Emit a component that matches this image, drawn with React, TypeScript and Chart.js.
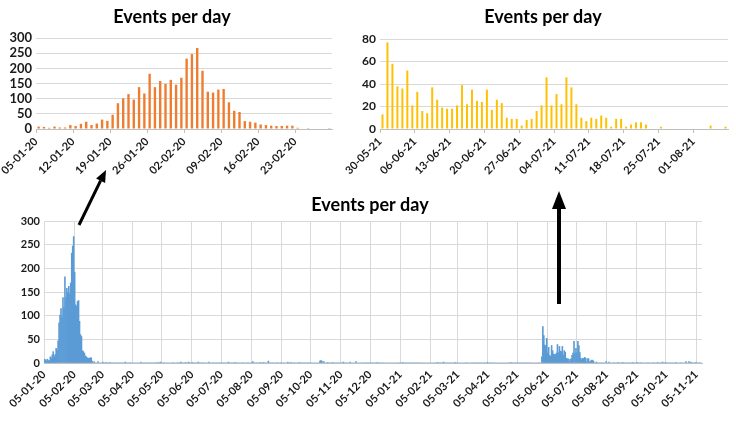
import React, { useEffect, useRef } from 'react';
import { Chart, registerables } from 'chart.js';
Chart.register(...registerables);

const TITLE = 'Events per day';

// Zoom 1: January–February 2020 (daily counts)
const JAN_START = '05-01-20';
const JAN_END = '01-03-20';
const JAN_VALUES = [8, 7, 4, 8, 5, 5, 13, 10, 17, 24, 13, 18, 31, 27, 47, 85, 101, 115, 97, 138, 117, 182, 138, 158, 149, 162, 146, 169, 232, 247, 267, 192, 123, 120, 130, 132, 88, 60, 56, 26, 24, 21, 15, 13, 11, 10, 10, 11, 11, 4, 0, 3, 0, 0, 0, 3];
const JAN_TICKS = ['05-01-20', '12-01-20', '19-01-20', '26-01-20', '02-02-20', '09-02-20', '16-02-20', '23-02-20'];

// Zoom 2: June–July 2021 (daily counts)
const JUN_START = '30-05-21';
const JUN_END = '08-08-21';
const JUN_VALUES = [13, 77, 58, 38, 36, 52, 21, 33, 16, 14, 37, 26, 19, 18, 18, 21, 39, 22, 35, 25, 24, 35, 17, 26, 23, 10, 9, 9, 3, 8, 9, 16, 21, 46, 21, 31, 22, 46, 37, 22, 10, 7, 10, 9, 12, 10, 2, 9, 9, 2, 4, 6, 6, 4, 0, 0, 2, 0, 0, 0, 0, 0, 0, 0, 0, 0, 3, 0, 0, 2];
const JUN_TICKS = ['30-05-21', '06-06-21', '13-06-21', '20-06-21', '27-06-21', '04-07-21', '11-07-21', '18-07-21', '25-07-21', '01-08-21'];

// Full period
const ALL_START = '05-01-20';
const ALL_END = '11-11-21';
const ALL_TICKS = ['05-01-20', '05-02-20', '05-03-20', '05-04-20', '05-05-20', '05-06-20', '05-07-20', '05-08-20', '05-09-20', '05-10-20', '05-11-20', '05-12-20', '05-01-21', '05-02-21', '05-03-21', '05-04-21', '05-05-21', '05-06-21', '05-07-21', '05-08-21', '05-09-21', '05-10-21', '05-11-21'];
// sporadic events outside the two zoomed periods (day offset from ALL_START, count)
const OTHER_DAYS = [60, 63, 67, 83, 88, 99, 116, 119, 132, 137, 140, 145, 148, 152, 158, 163, 169, 173, 189, 196, 204, 209, 214, 222, 225, 230, 239, 243, 250, 253, 262, 283, 284, 285, 287, 291, 296, 307, 314, 320, 342, 368, 404, 410, 422, 433, 455, 479, 508, 585, 589, 594, 604, 609, 613, 620, 625, 630, 635, 638, 649, 654, 659, 662, 664, 669];
const OTHER_VALUES = [2, 1, 1, 2, 1, 2, 1, 2, 1, 1, 2, 1, 2, 1, 2, 1, 2, 1, 2, 1, 1, 1, 3, 1, 1, 4, 1, 1, 2, 1, 1, 4, 5, 4, 3, 1, 1, 2, 2, 3, 1, 1, 1, 2, 1, 1, 1, 1, 1, 1, 1, 1, 1, 1, 1, 1, 1, 1, 2, 1, 1, 1, 3, 3, 2, 1];

function toUTC(s: string) {
  const [d, m, y] = s.split('-').map(Number);
  return Date.UTC(2000 + y, m - 1, d);
}
function dayOffset(from: string, to: string) {
  return Math.round((toUTC(to) - toUTC(from)) / 86400000);
}

const ALL_DAYS = dayOffset(ALL_START, ALL_END);
const allValues: number[] = new Array(ALL_DAYS).fill(0);
JAN_VALUES.forEach((v, i) => { allValues[dayOffset(ALL_START, JAN_START) + i] += v; });
JUN_VALUES.forEach((v, i) => { allValues[dayOffset(ALL_START, JUN_START) + i] += v; });
OTHER_DAYS.forEach((d, i) => { allValues[d] += OTHER_VALUES[i]; });

type Spec = {
  start: string;
  end: string;
  values: number[];
  ticks: string[];
  color: string;
  yMax: number;
  yStep: number;
  barPct: number;
  yWidth: number;
  xHeight: number;
  padLeft: number;
  rightGap: number;
  titleTop: number;
  titleBottom: number;
  yFont: number;
  xFont: number;
  xGrid: boolean;
};

const TICK_COLOR = '#1a1a1a';
const FONT = 'Lato, "Open Sans", sans-serif';

function Panel({ spec, left, top, width, height }: { spec: Spec; left: number; top: number; width: number; height: number }) {
  const ref = useRef<HTMLCanvasElement | null>(null);
  useEffect(() => {
    if (!ref.current) return;
    const xMax = dayOffset(spec.start, spec.end);
    const tickDays = spec.ticks.map((t) => dayOffset(spec.start, t));
    const chart = new Chart(ref.current, {
      type: 'bar',
      data: {
        datasets: [
          {
            data: spec.values.map((v, i) => ({ x: i + 0.5, y: v })),
            backgroundColor: spec.color,
            borderWidth: 0,
            barPercentage: spec.barPct,
            categoryPercentage: 1,
          } as any,
        ],
      },
      options: {
        animation: false,
        responsive: false,
        maintainAspectRatio: false,
        layout: { padding: { left: spec.padLeft, right: 0, top: 0, bottom: 0 } },
        plugins: {
          legend: { display: false },
          tooltip: { enabled: false },
          title: {
            display: true,
            text: TITLE,
            color: '#000',
            font: { family: FONT, size: 18, weight: 'bold' },
            padding: { top: spec.titleTop, bottom: spec.titleBottom },
          },
        },
        scales: {
          x: {
            type: 'linear',
            min: 0,
            max: xMax,
            offset: false,
            afterBuildTicks: (axis: any) => {
              axis.ticks = tickDays.map((v) => ({ value: v }));
            },
            afterFit: (axis: any) => {
              axis.height = spec.xHeight;
            },
            ticks: {
              autoSkip: false,
              minRotation: 45,
              maxRotation: 45,
              padding: spec.xGrid ? 5 : 2,
              color: TICK_COLOR,
              font: { family: FONT, size: spec.xFont, weight: 'bold' },
              callback: (_v: any, i: number) => spec.ticks[i] ?? '',
            },
            grid: {
              display: true,
              offset: false,
              drawOnChartArea: spec.xGrid,
              drawTicks: !spec.xGrid,
              tickLength: 4,
              color: spec.xGrid ? '#d9d9d9' : '#bfbfbf',
            },
            border: { display: true, color: '#bfbfbf' },
          } as any,
          y: {
            min: 0,
            max: spec.yMax,
            afterFit: (axis: any) => {
              axis.width = spec.yWidth;
            },
            ticks: {
              stepSize: spec.yStep,
              autoSkip: false,
              padding: 4,
              color: TICK_COLOR,
              font: { family: FONT, size: spec.yFont, weight: 'bold', lineHeight: 1 },
            },
            grid: { color: '#d9d9d9', drawTicks: false },
            border: { display: false },
          } as any,
          // empty right-hand gutter, so the title stays centred on the panel
          gutter: {
            type: 'linear',
            position: 'right',
            min: 0,
            max: 1,
            afterFit: (axis: any) => {
              axis.width = spec.rightGap;
            },
            ticks: { display: false },
            grid: { display: false, drawTicks: false },
            border: { display: false },
          } as any,
        },
      } as any,
    });
    return () => chart.destroy();
  }, [spec]);
  return (
    <canvas
      ref={ref}
      width={width}
      height={height}
      style={{ position: 'absolute', left, top, width, height }}
    />
  );
}

const janSpec: Spec = {
  start: JAN_START, end: JAN_END, values: JAN_VALUES, ticks: JAN_TICKS, color: '#ED7D31',
  yMax: 300, yStep: 50, barPct: 0.45, yWidth: 32, xHeight: 66, padLeft: 4, rightGap: 8,
  titleTop: 6, titleBottom: 10.4, yFont: 13, xFont: 11, xGrid: false,
};
const junSpec: Spec = {
  start: JUN_START, end: JUN_END, values: JUN_VALUES, ticks: JUN_TICKS, color: '#FFC000',
  yMax: 80, yStep: 20, barPct: 0.4, yWidth: 30, xHeight: 66, padLeft: 10, rightGap: 8,
  titleTop: 6, titleBottom: 11.4, yFont: 12, xFont: 11, xGrid: false,
};
const allSpec: Spec = {
  start: ALL_START, end: ALL_END, values: allValues, ticks: ALL_TICKS, color: '#5B9BD5',
  yMax: 300, yStep: 50, barPct: 1, yWidth: 40, xHeight: 62, padLeft: 4, rightGap: 34,
  titleTop: 4, titleBottom: 5.4, yFont: 11, xFont: 11, xGrid: true,
};

export default function App() {
  return (
    <div style={{ position: 'absolute', left: 0, top: 0, width: 736, height: 425, background: '#fff', overflow: 'hidden' }}>
      <Panel spec={janSpec} left={0} top={0} width={340} height={195} />
      <Panel spec={junSpec} left={340} top={0} width={396} height={195} />
      <Panel spec={allSpec} left={0} top={190} width={736} height={235} />
      <svg width={736} height={425} style={{ position: 'absolute', left: 0, top: 0, pointerEvents: 'none' }}>
        <line x1={79} y1={225} x2={100.6} y2={180.7} stroke="#000" strokeWidth={3} />
        <polygon points="106,170 105.1,182.9 96.1,178.5" fill="#000" />
        <line x1={559} y1={304} x2={559} y2={205} stroke="#000" strokeWidth={4} />
        <polygon points="559,191 566,209 552,209" fill="#000" />
      </svg>
    </div>
  );
}
